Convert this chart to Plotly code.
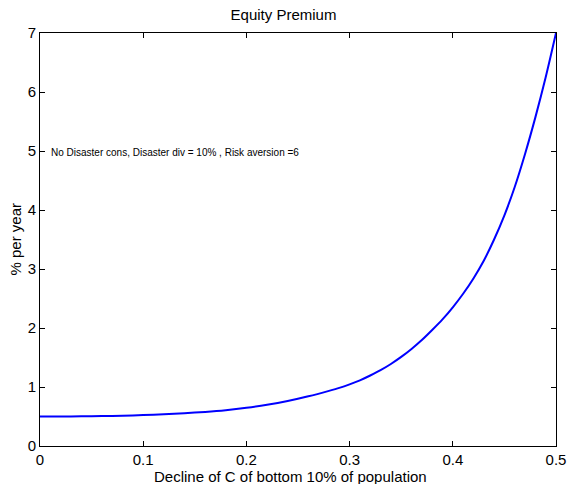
import plotly.graph_objects as go

decline = [0.00, 0.02, 0.04, 0.06, 0.08, 0.10, 0.12, 0.14, 0.16, 0.18, 0.20,
           0.22, 0.24, 0.26, 0.28, 0.29, 0.30, 0.31, 0.32, 0.33, 0.34, 0.35,
           0.36, 0.37, 0.38, 0.39, 0.40, 0.41, 0.42, 0.43, 0.44, 0.45, 0.46,
           0.47, 0.48, 0.49, 0.50]
premium = [0.500, 0.501, 0.503, 0.507, 0.514, 0.524, 0.537, 0.555, 0.578, 0.608, 0.648,
           0.698, 0.762, 0.842, 0.935, 0.985, 1.045, 1.113, 1.195, 1.285, 1.39, 1.51,
           1.645, 1.795, 1.965, 2.145, 2.35, 2.58, 2.84, 3.14, 3.50, 3.91, 4.39,
           4.95, 5.57, 6.25, 7.00]

x_ticks = [0, 0.1, 0.2, 0.3, 0.4, 0.5]
x_tick_text = ["0", "0.1", "0.2", "0.3", "0.4", "0.5"]
y_ticks = [0, 1, 2, 3, 4, 5, 6, 7]

title_text = "Equity Premium"
x_label = "Decline of C of bottom 10% of population"
y_label = "% per year"
note_text = "No Disaster cons, Disaster div = 10% , Risk aversion =6"
note_x, note_y = 0.009, 4.97

font_family = "Liberation Sans, Arial, sans-serif"

fig = go.Figure()
fig.add_trace(go.Scatter(x=decline, y=premium, mode="lines", line_shape="spline",
                         line=dict(color="#0000ff", width=2, smoothing=0.8), showlegend=False))

axis_common = dict(showline=True, linecolor="black", linewidth=1, mirror="allticks",
                   ticks="inside", ticklen=5, tickcolor="black", showgrid=False,
                   zeroline=False, automargin=False,
                   tickfont=dict(family=font_family, size=15, color="black"))

W, H = 567, 484
ML, MR, MT, MB = 40, 11, 33, 38

fig.update_layout(
    width=W, height=H,
    margin=dict(l=ML, r=MR, t=MT, b=MB, autoexpand=False),
    paper_bgcolor="white", plot_bgcolor="white",
    title=dict(text=title_text, x=0.5, xanchor="center", y=1 - 15 / H, yanchor="middle",
               font=dict(family=font_family, size=15, color="black")),
    xaxis=dict(range=[0, 0.5], tickvals=x_ticks, ticktext=x_tick_text, **axis_common),
    yaxis=dict(range=[0, 7], tickvals=y_ticks, **axis_common),
    annotations=[
        dict(x=note_x, y=note_y, xref="x", yref="y", text=note_text, showarrow=False,
             xanchor="left", yanchor="middle",
             font=dict(family=font_family, size=10, color="black")),
        dict(x=0.5, y=0, xref="paper", yref="paper", text=x_label, showarrow=False,
             xanchor="center", yanchor="middle", xshift=-8, yshift=-(476 - (H - MB)),
             font=dict(family=font_family, size=15, color="black")),
        dict(x=0, y=0.5, xref="paper", yref="paper", text=y_label, showarrow=False,
             textangle=-90, xanchor="center", yanchor="middle", xshift=-(ML - 15),
             font=dict(family=font_family, size=15, color="black")),
    ],
)

fig.write_html("out.html", config={"displayModeBar": False},
               post_script="document.body.style.margin='0';")
